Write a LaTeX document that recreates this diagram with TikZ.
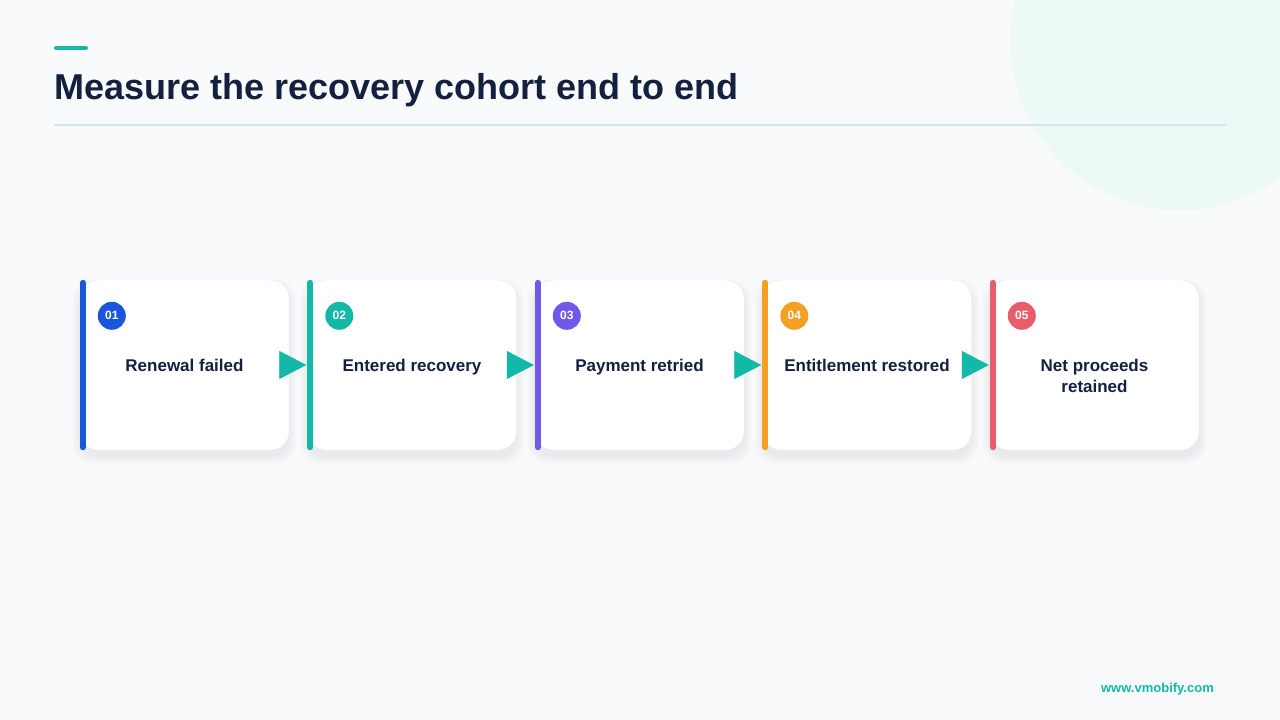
\documentclass[tikz,border=0pt]{standalone}
\usepackage{fontspec}
\setmainfont{Liberation Sans}
\usetikzlibrary{arrows.meta,positioning}
\definecolor{pagebg}{HTML}{F8FAFC}
\definecolor{mint}{HTML}{EDF9F7}
\definecolor{navy}{HTML}{13213F}
\definecolor{teal}{HTML}{14B8A6}
\definecolor{rule}{HTML}{D2E6F0}
\definecolor{cardline}{HTML}{E6EAF0}
\definecolor{stepA}{HTML}{1A56DB}
\definecolor{stepB}{HTML}{14B8A6}
\definecolor{stepC}{HTML}{7158E6}
\definecolor{stepD}{HTML}{F4A024}
\definecolor{stepE}{HTML}{E85D69}

\begin{document}
\begin{tikzpicture}[x=1pt,y=-1pt]
\tikzset{
  card/.style={draw=cardline,fill=white,rounded corners=18pt,minimum width=209pt,minimum height=170pt,inner sep=0pt},
  badge/.style={circle,fill=#1,text=white,minimum size=28pt,inner sep=0pt,font=\bfseries\fontsize{12}{14}\selectfont},
  lbl/.style={text=navy,align=center,font=\bfseries\fontsize{17}{21}\selectfont,anchor=north},
  flow/.style={draw=teal,line width=0.5pt,-{Triangle[length=27pt,width=28pt,fill=teal]}}
}
\useasboundingbox (0,0) rectangle (1280,720);
\fill[pagebg] (0,0) rectangle (1280,720);
\begin{scope}
\clip (0,0) rectangle (1280,720);
\fill[mint] (1180,40) circle (170);
\end{scope}

% title
\draw[teal,line width=4pt,line cap=round] (56,48) -- (86,48);
\node[anchor=base west,inner sep=0pt,text=navy,font=\bfseries\fontsize{36}{42}\selectfont] (title) at (54,99) {Measure the recovery cohort end to end};
\draw[rule,line width=1.2pt] (54,125) -- (1226,125);

% cards
\foreach \i/\col/\txt [count=\n] in {01/stepA/Renewal failed,02/stepB/Entered recovery,03/stepC/Payment retried,04/stepD/Entitlement restored,05/stepE/{Net proceeds\\retained}}{
  \pgfmathsetmacro{\cx}{184.5+227.5*(\n-1)}
  % soft shadow
  \foreach \k in {1,...,8}
    \fill[black,opacity=0.008,rounded corners=20pt] ({\cx-104.5-\k},{280+7-\k}) rectangle ({\cx+104.5+\k},{450+6+\k});
  \node[card] (c\n) at (\cx,365) {};
  \draw[\col,line width=6pt,line cap=round] ([xshift=3pt,yshift=-3pt]c\n.north west) -- ([xshift=3pt,yshift=3pt]c\n.south west);
  \node[badge=\col] (b\n) at ([xshift=32pt,yshift=-36pt]c\n.north west) {\i};
  \node[lbl] (t\n) at ([yshift=9pt]c\n.center) {\txt};
}

% arrows
\foreach \a/\b in {1/2,2/3,3/4,4/5}
  \draw[flow] (c\a.east) -- ([xshift=-1pt]c\b.west);

\node[anchor=base east,inner sep=0pt,text=teal,font=\bfseries\fontsize{13}{15}\selectfont] (site) at (1214,692) {www.vmobify.com};
\end{tikzpicture}
\end{document}
